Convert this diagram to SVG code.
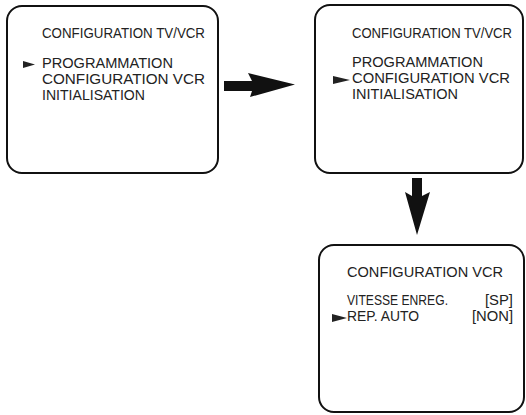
<svg xmlns="http://www.w3.org/2000/svg" width="526" height="415" viewBox="0 0 526 415">
<style>
.box{fill:#fff;stroke:#111;stroke-width:2}
.t{font-family:"Liberation Sans",Arial,sans-serif;font-size:14px;fill:#222}
.ptr{fill:#222}
.arr{fill:#111}
</style>
<rect width="526" height="415" fill="#fff"/>
<g id="screen1">
<rect class="box" x="7" y="6" width="211" height="167" rx="15"/>
<text class="t" x="42" y="38" textLength="163" lengthAdjust="spacingAndGlyphs">CONFIGURATION TV/VCR</text>
<polygon class="ptr" points="23,61 35,64.5 23,68"/>
<text class="t" x="42" y="68" textLength="131" lengthAdjust="spacingAndGlyphs">PROGRAMMATION</text>
<text class="t" x="42" y="84" textLength="163" lengthAdjust="spacingAndGlyphs">CONFIGURATION VCR</text>
<text class="t" x="42" y="100" textLength="103" lengthAdjust="spacingAndGlyphs">INITIALISATION</text>
</g>
<g id="screen2">
<rect class="box" x="315" y="5" width="208" height="168" rx="15"/>
<text class="t" x="352" y="38" textLength="160" lengthAdjust="spacingAndGlyphs">CONFIGURATION TV/VCR</text>
<text class="t" x="352" y="67" textLength="131" lengthAdjust="spacingAndGlyphs">PROGRAMMATION</text>
<polygon class="ptr" points="333,76 350,80 333,84"/>
<text class="t" x="352" y="83" textLength="158" lengthAdjust="spacingAndGlyphs">CONFIGURATION VCR</text>
<text class="t" x="352" y="99" textLength="106" lengthAdjust="spacingAndGlyphs">INITIALISATION</text>
</g>
<g id="screen3">
<rect class="box" x="319" y="245" width="205" height="167" rx="15"/>
<text class="t" x="347" y="277" textLength="156" lengthAdjust="spacingAndGlyphs">CONFIGURATION VCR</text>
<text class="t" x="347" y="305" textLength="101" lengthAdjust="spacingAndGlyphs">VITESSE ENREG.</text>
<text class="t" x="485" y="305" textLength="28" lengthAdjust="spacingAndGlyphs">[SP]</text>
<polygon class="ptr" points="332,314 347,318 332,322"/>
<text class="t" x="347" y="321" textLength="72" lengthAdjust="spacingAndGlyphs">REP. AUTO</text>
<text class="t" x="472" y="321" textLength="41" lengthAdjust="spacingAndGlyphs">[NON]</text>
</g>
<g id="connectors">
<polygon class="arr" points="224,81 252,81 248,73 295,84.5 250,97 252,91 224,91"/>
<polygon class="arr" points="412,178 422,178 422,196 430,192 417,235 405,192 412,196"/>
</g>
</svg>
